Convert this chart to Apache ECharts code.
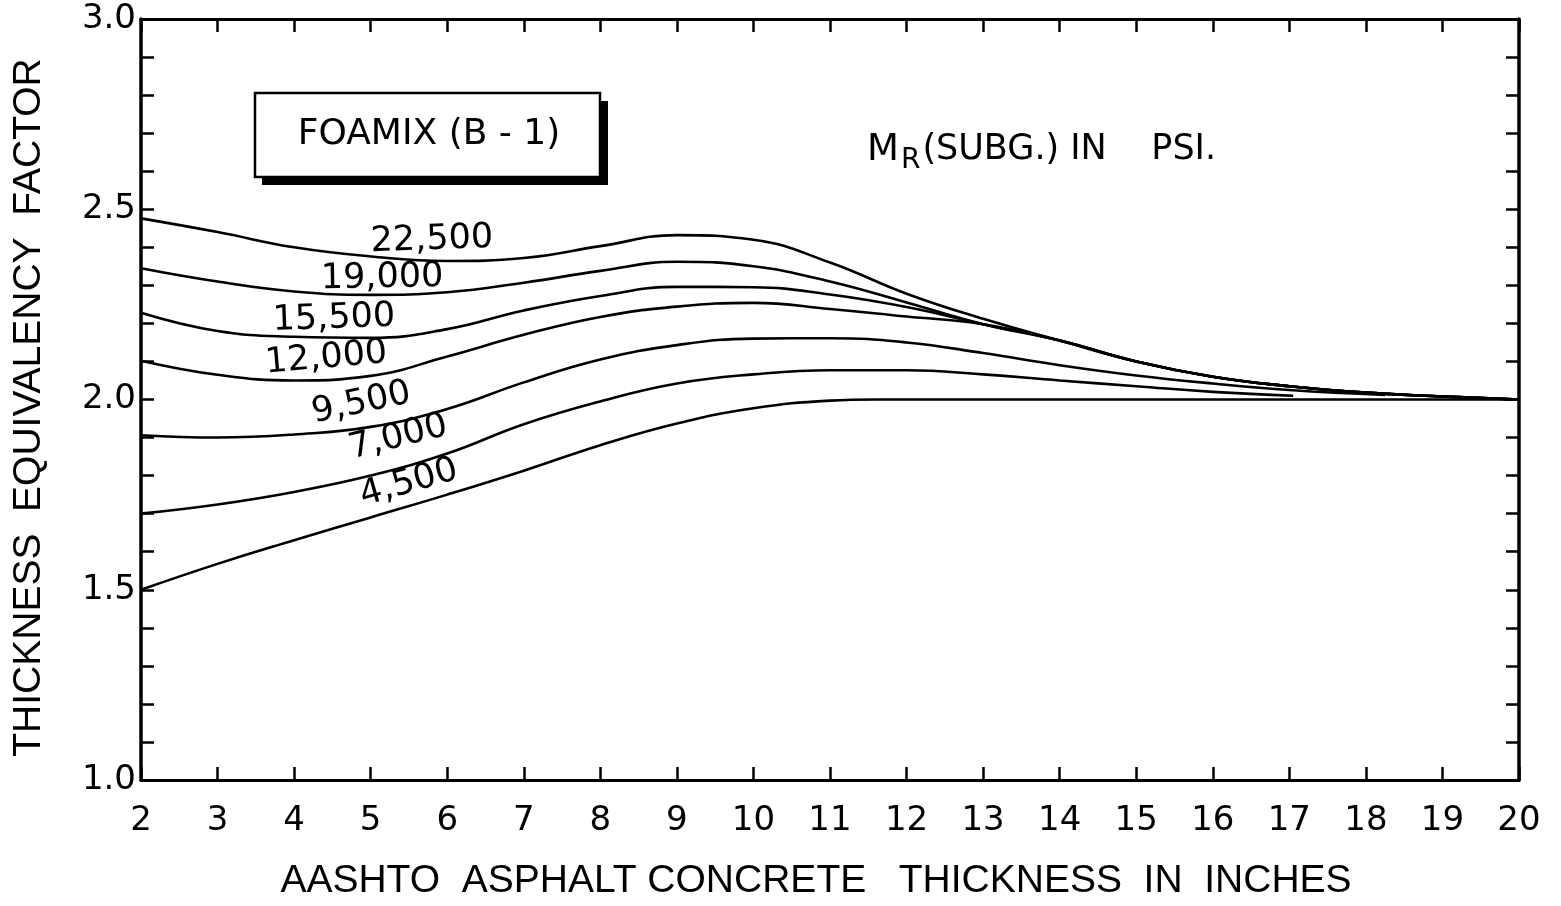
<!DOCTYPE html>
<html><head><meta charset="utf-8">
<script src="https://cdn.jsdelivr.net/npm/echarts@6/dist/echarts.min.js"></script>
<style>html,body{margin:0;padding:0;background:#fff}#c{width:1561px;height:906px}</style>
</head><body><div id="c"></div><script>
// ---- data (x = AC thickness in inches, y = thickness equivalency factor) ----
const seriesNames = ['22,500', '19,000', '15,500', '12,000', '9,500', '7,000', '4,500'];
const mr22500 = [[2,2.476],[3,2.44],[4,2.4],[5,2.376],[6,2.364],[7,2.372],[8,2.403],[9,2.432],[10,2.42],[11,2.36],[12,2.278],[13,2.212],[14,2.155],[15,2.1],[16,2.06],[17,2.035],[18,2.018],[19,2.008],[20,2.0]];
const mr19000 = [[2,2.345],[3,2.31],[4,2.284],[5,2.275],[6,2.282],[7,2.307],[8,2.338],[9,2.362],[10,2.35],[11,2.31],[12,2.255],[13,2.198],[14,2.155],[15,2.1],[16,2.06],[17,2.035],[18,2.018],[19,2.008],[20,2.0]];
const mr15500 = [[2,2.228],[3,2.18],[4,2.165],[5,2.162],[6,2.185],[7,2.234],[8,2.272],[9,2.296],[10,2.295],[11,2.276],[12,2.243],[13,2.198],[14,2.155],[15,2.1],[16,2.06],[17,2.035],[18,2.018],[19,2.008],[20,2.0]];
const mr12000 = [[2,2.102],[3,2.065],[4,2.05],[5,2.062],[6,2.113],[7,2.17],[8,2.217],[9,2.244],[10,2.254],[11,2.238],[12,2.218],[13,2.198],[14,2.155],[15,2.1],[16,2.06],[17,2.035],[18,2.018],[19,2.008],[20,2.0]];
const mr9500 = [[2,1.906],[3,1.9],[4,1.908],[5,1.928],[6,1.975],[7,2.045],[8,2.105],[9,2.143],[10,2.16],[11,2.161],[12,2.15],[13,2.122],[14,2.09],[15,2.063],[16,2.042],[17,2.025],[18.25,2.012]];
const mr7000 = [[2,1.7],[3,1.724],[4,1.757],[5,1.8],[6,1.858],[7,1.935],[8,1.995],[9,2.042],[10,2.066],[11,2.077],[12,2.077],[13,2.066],[14,2.05],[15,2.035],[16,2.02],[17.05,2.01]];
const mr4500 = [[2,1.5],[3,1.568],[4,1.63],[5,1.69],[6,1.75],[7,1.813],[8,1.88],[9,1.937],[10,1.977],[11,1.997],[11.6,2.0],[12,2.0],[14,2.0],[16,2.0],[18,2.0],[20,2.0]];
const curveValues = [mr22500, mr19000, mr15500, mr12000, mr9500, mr7000, mr4500];
// label anchor points (data units)
const labelAt = [[5.8,2.419],[5.15,2.319],[4.52,2.212],[4.42,2.108],[4.88,1.99],[5.36,1.9],[5.5,1.78]];
const xRange = [2, 20];
const yRange = [1, 3];

// ---- styles ----
const labelAngles = [2, 1, 2, 5, 12, 14, 16];
const INK = '#000';
const FONT = "'Liberation Sans', Arial, sans-serif";
const DFONT = "'DejaVu Sans', sans-serif";

const chart = echarts.init(document.getElementById('c'), null, {renderer: 'canvas'});

const yFmt = v => { const r = Math.round(v * 10); return r % 5 === 0 ? (r / 10).toFixed(1) : ''; };

const baseX = {
  type: 'value', min: xRange[0], max: xRange[1], interval: 1,
  splitLine: {show: false},
  axisLine: {show: true, onZero: false, lineStyle: {color: INK, width: 3}},
  axisTick: {show: true, inside: true, length: 13, lineStyle: {color: INK, width: 2.5}}
};
const baseY = {
  type: 'value', min: yRange[0], max: yRange[1], interval: 0.1,
  splitLine: {show: false},
  axisLine: {show: true, onZero: false, lineStyle: {color: INK, width: 3.5}},
  axisTick: {show: true, inside: true, length: 13, lineStyle: {color: INK, width: 2.5}}
};

const series = curveValues.map((vals, i) => ({
  type: 'line', name: seriesNames[i], data: vals, smooth: 0.45,
  showSymbol: false, symbol: 'none', silent: true,
  lineStyle: {color: INK, width: 2.6},
  markPoint: {
    symbol: 'circle', symbolSize: 0, silent: true,
    data: [{name: seriesNames[i], coord: labelAt[i]}],
    label: {show: true, formatter: '{b}', position: 'inside', rotate: labelAngles[i],
      color: INK, fontSize: 35, fontFamily: DFONT}
  }
}));

chart.setOption({
  backgroundColor: '#fff',
  animation: false,
  grid: {left: 141, right: 42, top: 19, bottom: 123},
  xAxis: [
    Object.assign({}, baseX, {
      position: 'bottom',
      axisLabel: {show: true, color: INK, fontSize: 34, fontFamily: DFONT, margin: 24},
      name: 'AASHTO  ASPHALT CONCRETE   THICKNESS  IN  INCHES',
      nameLocation: 'middle', nameGap: 82,
      nameTextStyle: {color: INK, fontSize: 39, fontFamily: FONT, padding: [0, 28, 0, 0]}
    }),
    Object.assign({}, baseX, {position: 'top', axisLabel: {show: false}})
  ],
  yAxis: [
    Object.assign({}, baseY, {
      position: 'left',
      axisLabel: {show: true, color: INK, fontSize: 34, fontFamily: DFONT, margin: 5, formatter: yFmt},
      name: 'THICKNESS  EQUIVALENCY  FACTOR',
      nameLocation: 'middle', nameGap: 92,
      nameTextStyle: {color: INK, fontSize: 39, fontFamily: FONT, padding: [0, 16, 0, 0]}
    }),
    Object.assign({}, baseY, {position: 'right', axisLabel: {show: false}})
  ],
  graphic: [
    {type: 'rect', shape: {x: 262, y: 101, width: 346, height: 84}, style: {fill: INK}, z: 10},
    {type: 'rect', shape: {x: 255, y: 93, width: 345, height: 84}, style: {fill: '#fff', stroke: INK, lineWidth: 2.5}, z: 11},
    {type: 'text', x: 429, y: 135, z: 12,
      style: {text: 'FOAMIX (B - 1)', fill: INK, font: "36px 'DejaVu Sans', sans-serif", align: 'center', verticalAlign: 'middle'}},
    {type: 'text', x: 867, y: 150, z: 12,
      style: {
        text: '{m|M}{s|R}{t|(SUBG.) IN    PSI.}',
        fill: INK, verticalAlign: 'middle', align: 'left',
        rich: {
          m: {fontSize: 37, fontFamily: DFONT, fill: INK},
          s: {fontSize: 28, fontFamily: DFONT, fill: INK, padding: [22, 2, 0, 2]},
          t: {fontSize: 35, fontFamily: DFONT, fill: INK}
        }
      }}
  ],
  series: series
});
</script></body></html>
